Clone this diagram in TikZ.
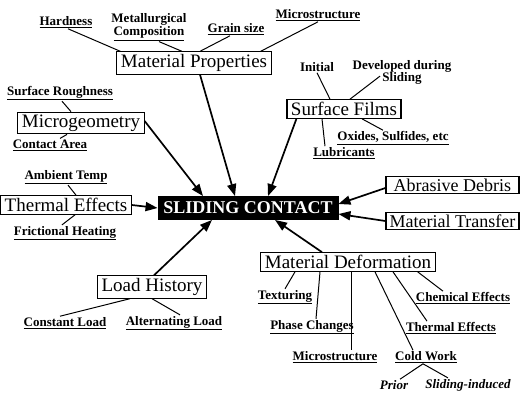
\documentclass[tikz,border=0pt]{standalone}
\usepackage{fontspec}
\setmainfont{Liberation Serif}
\usetikzlibrary{arrows.meta,calc}
\begin{document}
\begin{tikzpicture}[x=1pt,y=-1pt,
  box/.style={draw,line width=1.1pt,inner xsep=4pt,inner ysep=2.5pt,font=\fontsize{19}{21}\selectfont},
  sidebox/.style={draw,line width=1.1pt,inner xsep=2pt,inner ysep=2.5pt,font=\fontsize{18}{20}\selectfont,anchor=east,minimum width=133pt},
  lab/.style={inner sep=1pt,font=\fontsize{13}{13}\selectfont\bfseries},
  ilab/.style={inner sep=1pt,font=\fontsize{13}{13}\selectfont\bfseries\itshape},
  con/.style={line width=1pt},
  arr/.style={line width=1.7pt,-{Triangle[length=12pt,width=9pt]}},
]
\useasboundingbox (0,0) rectangle (520,396);
% main boxes
\node[box] (mp) at (194,63) {Material Properties};
\node[box] (sf) at (344,109) {Surface Films};
\node[box] (mg) at (81,123) {Microgeometry};
\node[box] (te) at (66,205) {Thermal Effects};
\node[fill=black,text=white,draw=black,line width=0.9pt,inner sep=2.5pt,minimum width=180pt,minimum height=23pt,
  font=\fontsize{18}{19}\selectfont\bfseries] (sc) at (248,208) {SLIDING CONTACT};
\node[sidebox] (ad) at (519.5,185) {Abrasive Debris};
\node[sidebox] (mt) at (519.5,221) {Material Transfer};
\node[box] (md) at (348,262) {Material Deformation};
\node[box] (lh) at (152,287) {Load History};
% labels
\node[lab] (hard) at (66,22) {\underline{Hardness}};
\node[lab,align=center] (comp) at (149,27) {Metallurgical\\\underline{Composition}};
\node[lab] (grain) at (236,29) {\underline{Grain size}};
\node[lab] (micro1) at (318,15) {\underline{Microstructure}};
\node[lab] (init) at (317,67) {Initial};
\node[lab,align=center,font=\fontsize{13}{12}\selectfont\bfseries] (dev) at (402,72) {Developed during\\Sliding};
\node[lab] (ox) at (393,138) {\underline{Oxides, Sulfides, etc}};
\node[lab] (lub) at (344,153) {\underline{Lubricants}};
\node[lab] (sr) at (60,93) {\underline{Surface Roughness}};
\node[lab] (ca) at (50,145) {\underline{Contact Area}};
\node[lab] (at) at (66,177) {\underline{Ambient Temp}};
\node[lab] (fh) at (65,233) {\underline{Frictional Heating}};
\node[lab] (cl) at (65,323) {\underline{Constant Load}};
\node[lab] (al) at (174,323) {\underline{Alternating Load}};
\node[lab] (tex) at (285,297) {\underline{Texturing}};
\node[lab] (pc) at (312,327) {\underline{Phase Changes}};
\node[lab] (ms2) at (335,357) {\underline{Microstructure}};
\node[lab] (cw) at (426,357) {\underline{Cold Work}};
\node[ilab] (pr) at (394,385) {Prior};
\node[ilab] (si) at (468,385) {Sliding-induced};
\node[lab] (te2) at (451,328) {\underline{Thermal Effects}};
\node[lab] (ce) at (463,298) {\underline{Chemical Effects}};
% connectors to labels
\draw[con] ([xshift=2pt]hard.south) -- ([xshift=4pt]mp.north west);
\draw[con] ([xshift=10pt]comp.south) -- ([xshift=-12pt]mp.north);
\draw[con] ([xshift=-6pt]grain.south) -- ([xshift=6pt]mp.north);
\draw[con] (micro1.south) -- ([xshift=-11pt]mp.north east);
\draw[con] (init.south) -- ([xshift=-14pt]sf.north);
\draw[con] ($(dev.south)+(-22,-9)$) -- ([xshift=6pt]sf.north);
\draw[con] ([xshift=18pt]sf.south) -- ([xshift=-10pt]ox.north);
\draw[con] ([xshift=-22pt]sf.south) -- ([xshift=-19pt]lub.north);
\draw[con] ([xshift=2pt]sr.south) -- ([xshift=-10pt]mg.north);
\draw[con] ([xshift=10pt]ca.north) -- ([xshift=-14pt]mg.south);
\draw[con] ([xshift=2pt]at.south) -- ([xshift=10pt]te.north);
\draw[con] ([xshift=9pt]te.south) -- ([xshift=-3pt]fh.north);
\draw[con] ([xshift=-22pt]lh.south) -- ([xshift=-5pt]cl.north);
\draw[con] (lh.south) -- ([xshift=6pt]al.north);
\draw[con] ([xshift=-53pt]md.south) -- (tex.north);
\draw[con] ([xshift=-28pt]md.south) -- ([xshift=4pt]pc.north);
\draw[con] ([xshift=3pt]md.south) -- ([xshift=16pt]ms2.north);
\draw[con] ([xshift=27pt]md.south) -- ([xshift=-13pt]cw.north);
\draw[con] ([xshift=45pt]md.south) -- ([xshift=-24pt]te2.north);
\draw[con] ([xshift=-18pt]md.south east) -- ([xshift=-20pt]ce.north);
\draw[con] ([xshift=-3pt]cw.south) -- ([xshift=6pt]pr.north);
\draw[con] ([xshift=-3pt]cw.south) -- ([xshift=-20pt]si.north);
% arrows to sliding contact
\draw[arr] ([xshift=6pt]mp.south) -- ([xshift=-13pt]sc.north);
\draw[arr] ([xshift=10pt]sf.south west) -- ([xshift=20pt]sc.north);
\draw[arr] ([yshift=2pt]mg.east) -- ([xshift=-45pt]sc.north);
\draw[arr] (te.east) -- (sc.west);
\draw[arr] ([yshift=-3pt]ad.west) -- ([yshift=4pt]sc.east);
\draw[arr] (mt.west) -- ([yshift=-6pt]sc.east);
\draw[arr] ([xshift=-26pt]md.north) -- ([xshift=27pt]sc.south);
\draw[arr] ([xshift=2pt]lh.north) -- ([xshift=-36pt]sc.south);
\end{tikzpicture}
\end{document}
